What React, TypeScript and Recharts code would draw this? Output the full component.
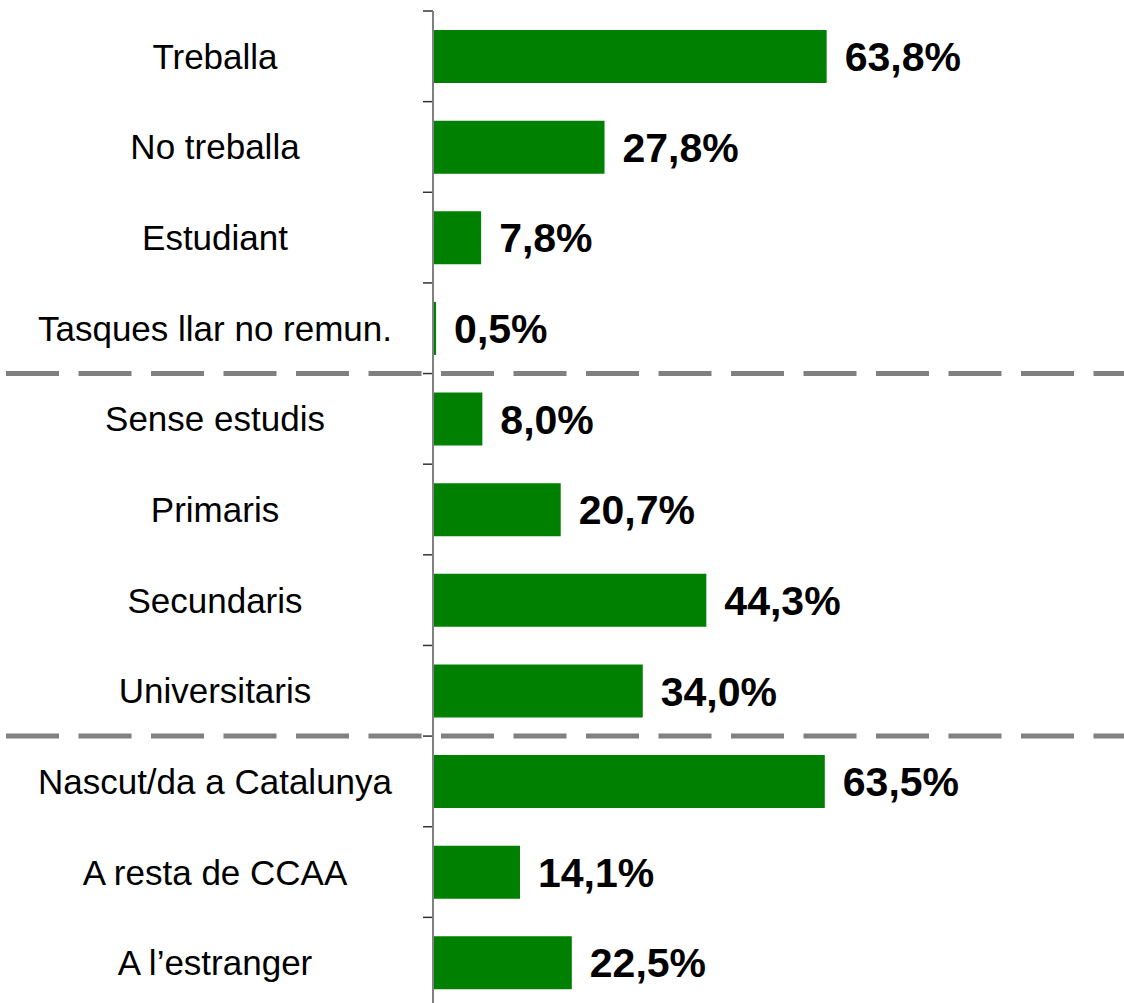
import React from 'react'
import { BarChart, Bar, XAxis, YAxis, LabelList, ReferenceLine } from 'recharts'

const categories = [
  'Treballa',
  'No treballa',
  'Estudiant',
  'Tasques llar no remun.',
  'Sense estudis',
  'Primaris',
  'Secundaris',
  'Universitaris',
  'Nascut/da a Catalunya',
  'A resta de CCAA',
  'A l\u2019estranger',
]
const values = [63.8, 27.8, 7.8, 0.5, 8.0, 20.7, 44.3, 34.0, 63.5, 14.1, 22.5]
// first category of each new block gets a dashed separator above it
const groupStarts = ['Sense estudis', 'Nascut/da a Catalunya']

const data = categories.map((name, i) => ({ name, value: values[i] }))

const FONT = '"Liberation Sans", Arial, sans-serif'
const fmt = (v: any) => `${Number(v).toFixed(1).replace('.', ',')}%`

const CategoryTick = ({ y, payload }: any) => (
  <text x={215} y={y} textAnchor="middle" dominantBaseline="central" fontSize={35} fontFamily={FONT} fill="#000">
    {payload.value}
  </text>
)

export default function App() {
  return (
    <div style={{ position: 'absolute', left: 0, top: 0, width: 1124, height: 1003, overflow: 'hidden', background: '#fff' }}>
      <BarChart
        width={1124}
        height={1008}
        data={data}
        layout="vertical"
        margin={{ top: 11, right: 74, bottom: 0, left: 0 }}
        barSize={53}
      >
        <XAxis type="number" domain={[0, 100]} hide />
        <YAxis
          type="category"
          dataKey="name"
          width={433}
          interval={0}
          tickLine={false}
          axisLine={{ stroke: '#808080', strokeWidth: 2 }}
          tick={<CategoryTick />}
        />
        {categories.map(c => (
          <ReferenceLine
            key={c}
            y={c}
            position="start"
            ifOverflow="visible"
            shape={(p: any) => <line x1={p.x1 - 10} x2={p.x1} y1={p.y1} y2={p.y1} stroke="#333" strokeWidth={1.5} />}
          />
        ))}
        {groupStarts.map(c => (
          <ReferenceLine
            key={'g' + c}
            y={c}
            position="start"
            ifOverflow="visible"
            shape={(p: any) => (
              <line x1={6} x2={1124} y1={p.y1} y2={p.y1} stroke="#808080" strokeWidth={5} strokeDasharray="53 19.5" />
            )}
          />
        ))}
        <Bar dataKey="value" fill="#008000" isAnimationActive={false}>
          <LabelList
            dataKey="value"
            position="right"
            offset={18}
            formatter={fmt}
            fontSize={41}
            fontWeight="bold"
            fontFamily={FONT}
            fill="#000"
          />
        </Bar>
      </BarChart>
    </div>
  )
}
